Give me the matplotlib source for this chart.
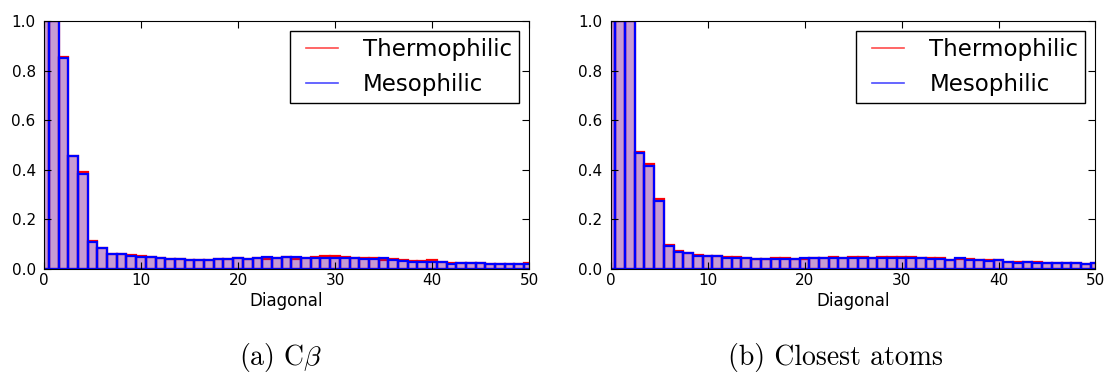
import numpy as np
import matplotlib
matplotlib.use("Agg")
import matplotlib.pyplot as plt
from matplotlib.lines import Line2D
from matplotlib.legend_handler import HandlerLine2D

plt.rcParams["mathtext.fontset"] = "cm"

# Diagonal offsets 0..50
diagonal = np.arange(51)

# (a) C-beta contacts
cb_thermo = [1.0, 1.0, 0.855, 0.457, 0.39, 0.113, 0.085, 0.062, 0.060, 0.055,
             0.054, 0.048, 0.044, 0.041, 0.039, 0.038, 0.037, 0.038, 0.040, 0.040,
             0.043, 0.040, 0.044, 0.040, 0.046, 0.048, 0.040, 0.044, 0.048, 0.051,
             0.051, 0.050, 0.046, 0.046, 0.043, 0.038, 0.040, 0.038, 0.032, 0.032,
             0.036, 0.030, 0.024, 0.024, 0.024, 0.024, 0.019, 0.020, 0.019, 0.019,
             0.024]
cb_meso = [1.0, 1.0, 0.85, 0.455, 0.385, 0.11, 0.083, 0.060, 0.059, 0.051,
           0.048, 0.047, 0.043, 0.040, 0.039, 0.038, 0.036, 0.035, 0.039, 0.040,
           0.043, 0.039, 0.044, 0.048, 0.046, 0.048, 0.047, 0.044, 0.043, 0.046,
           0.046, 0.043, 0.043, 0.042, 0.040, 0.044, 0.038, 0.032, 0.030, 0.030,
           0.030, 0.027, 0.0215, 0.024, 0.024, 0.023, 0.019, 0.020, 0.019, 0.019,
           0.020]

# (b) closest-atom contacts
ca_thermo = [1.0, 1.0, 1.0, 0.47, 0.422, 0.283, 0.095, 0.072, 0.064, 0.056,
             0.054, 0.052, 0.047, 0.047, 0.044, 0.040, 0.040, 0.043, 0.046, 0.040,
             0.040, 0.044, 0.046, 0.047, 0.045, 0.047, 0.047, 0.045, 0.048, 0.050,
             0.047, 0.048, 0.043, 0.044, 0.043, 0.038, 0.040, 0.040, 0.038, 0.038,
             0.038, 0.030, 0.030, 0.030, 0.027, 0.025, 0.024, 0.023, 0.023, 0.022,
             0.025]
ca_meso = [1.0, 1.0, 1.0, 0.467, 0.417, 0.275, 0.093, 0.070, 0.063, 0.054,
           0.052, 0.051, 0.046, 0.046, 0.043, 0.039, 0.039, 0.040, 0.040, 0.039,
           0.043, 0.043, 0.043, 0.046, 0.044, 0.046, 0.046, 0.043, 0.043, 0.046,
           0.046, 0.043, 0.043, 0.042, 0.040, 0.038, 0.043, 0.038, 0.035, 0.034,
           0.035, 0.030, 0.026, 0.027, 0.024, 0.024, 0.023, 0.023, 0.023, 0.022,
           0.024]

panels = [
    (r"(a) C$\beta$", 0.254, cb_thermo, cb_meso),
    ("(b) Closest atoms", 0.757, ca_thermo, ca_meso),
]


def draw_panel(ax, thermo, meso):
    ax.bar(diagonal, thermo, width=1.0, align="center",
           facecolor=(1, 0, 0, 0.22), edgecolor="red", linewidth=1.6)
    ax.bar(diagonal, meso, width=1.0, align="center",
           facecolor=(0, 0, 1, 0.22), edgecolor="blue", linewidth=1.6)
    ax.set_xlim(0, 50)
    ax.set_ylim(0, 1.0)
    ax.set_xticks(np.arange(0, 51, 10))
    ax.set_yticks(np.arange(0, 1.01, 0.2))
    ax.tick_params(direction="in", top=True, right=True, labelsize=11,
                   length=5, colors="black")
    ax.tick_params(axis="x", pad=3)
    ax.tick_params(axis="y", pad=6)
    ax.set_xlabel("Diagonal", fontsize=12, labelpad=3)
    handles = [Line2D([], [], color="red", alpha=0.7, lw=1.2),
               Line2D([], [], color="blue", alpha=0.7, lw=1.2)]
    # short legend lines with some room on both sides
    short_line = HandlerLine2D(numpoints=2, marker_pad=0.4)
    leg = ax.legend(handles, ["Thermophilic", "Mesophilic"], loc="upper right",
                    fontsize=16.5, fancybox=False, framealpha=1,
                    handlelength=2.2, handletextpad=0.7, borderpad=0.3,
                    labelspacing=0.5, borderaxespad=0.45,
                    handler_map={Line2D: short_line})
    leg.get_frame().set_edgecolor("black")


fig = plt.figure(figsize=(11.04, 3.82), dpi=100)
lefts = [0.0399, 0.5530]
for left, (caption, cap_x, thermo, meso) in zip(lefts, panels):
    ax = fig.add_axes([left, 0.2958, 0.4393, 0.6492])
    draw_panel(ax, thermo, meso)
    fig.text(cap_x, 0.063, caption, ha="center", va="center",
             fontsize=20, family="cmr10")

fig.savefig("out.png", dpi=100)
